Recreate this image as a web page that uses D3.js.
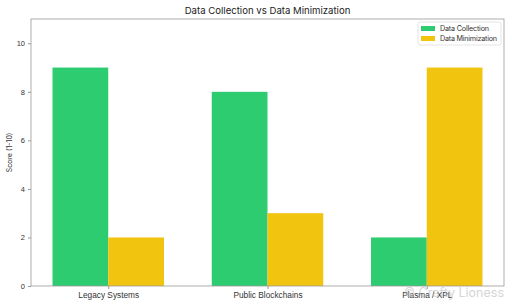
<!DOCTYPE html>
<html lang="en">
<head>
<meta charset="utf-8">
<title>Data Collection vs Data Minimization</title>
<script src="https://d3js.org/d3.v7.min.js"></script>
<style>
  body { margin: 0; background: #fff; }
  svg { display: block; font-family: Inter, "Noto Sans", sans-serif; }
</style>
</head>
<body>
<div id="chart"></div>
<script>
// data
var categories = ["Legacy Systems", "Public Blockchains", "Plasma / XPL"];
var seriesNames = ["Data Collection", "Data Minimization"];
var collection = [9, 8, 2];
var minimization = [2, 3, 9];
var yTicks = [0, 2, 4, 6, 8, 10];
var colors = ["#2ecc71", "#f1c40f"];

var W = 512, H = 307;
var margin = {top: 19, right: 8, bottom: 21, left: 31};
var width = W - margin.left - margin.right,
    height = H - margin.top - margin.bottom;

var svg = d3.select("#chart").append("svg")
    .attr("width", W).attr("height", H);

var g = svg.append("g")
    .attr("transform", "translate(" + margin.left + "," + margin.top + ")");

// x in category units, like matplotlib (bar width 0.35, 5% margins)
var x = d3.scaleLinear().domain([-0.485, 2.485]).range([0, width]);
var y = d3.scaleLinear().domain([0, 11]).range([height, 0]);
var bw = 0.35;

var rows = categories.map(function(c, i) {
  return {cat: c, i: i, vals: [collection[i], minimization[i]]};
});

rows.forEach(function(r) {
  r.vals.forEach(function(v, k) {
    var x0 = k == 0 ? r.i - bw : r.i;
    g.append("rect")
      .attr("x", x(x0))
      .attr("width", x(x0 + bw) - x(x0))
      .attr("y", y(v))
      .attr("height", y(0) - y(v))
      .attr("fill", colors[k]);
  });
});

// frame
g.append("rect")
  .attr("width", width).attr("height", height)
  .attr("fill", "none").attr("stroke", "#999").attr("stroke-width", 0.8);

// y axis
var yAxis = g.append("g")
  .call(d3.axisLeft(y).tickValues(yTicks).tickSize(3).tickPadding(3));
yAxis.select(".domain").remove();
yAxis.selectAll("line").attr("stroke", "#999");
yAxis.selectAll("text").attr("font-size", 7.5).attr("fill", "#333");

// x axis
var xAxis = g.append("g")
  .attr("transform", "translate(0," + height + ")")
  .call(d3.axisBottom(x).tickValues([0, 1, 2])
    .tickFormat(function(d) { return categories[d]; })
    .tickSize(3).tickPadding(3));
xAxis.select(".domain").remove();
xAxis.selectAll("line").attr("stroke", "#999");
xAxis.selectAll("text").attr("font-size", 8.3).attr("fill", "#333");

// title
svg.append("text")
  .attr("x", margin.left + width / 2).attr("y", 14)
  .attr("text-anchor", "middle")
  .attr("font-size", 9.6).attr("fill", "#222")
  .text("Data Collection vs Data Minimization");

// y label
svg.append("text")
  .attr("transform", "translate(12," + (margin.top + height / 2) + ") rotate(-90)")
  .attr("text-anchor", "middle")
  .attr("font-size", 7).attr("fill", "#333")
  .text("Score (1-10)");

// legend
var lg = svg.append("g").attr("transform", "translate(418,22)");
lg.append("rect")
  .attr("width", 83).attr("height", 23).attr("rx", 2)
  .attr("fill", "#fff").attr("stroke", "#ddd").attr("stroke-width", 0.8);
seriesNames.forEach(function(s, k) {
  lg.append("rect")
    .attr("x", 3).attr("y", 4 + k * 10)
    .attr("width", 14).attr("height", 5)
    .attr("fill", colors[k]);
  lg.append("text")
    .attr("x", 22).attr("y", 9 + k * 10)
    .attr("font-size", 7.2).attr("fill", "#333")
    .attr("textLength", k == 0 ? 49 : 57)
    .text(s);
});

// watermark
svg.append("text")
  .attr("x", 504).attr("y", 297)
  .attr("text-anchor", "end")
  .attr("font-size", 12.5).attr("fill", "#bbb").attr("opacity", 0.6)
  .text("\u00a9 Crafty Lioness");
</script>
</body>
</html>
